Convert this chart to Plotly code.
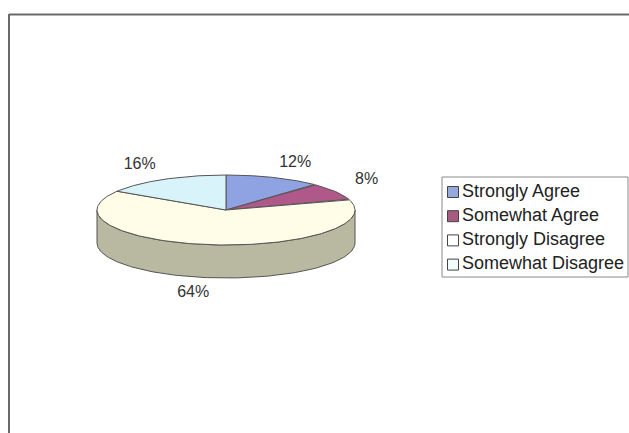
import numpy as np
import plotly.graph_objects as go

categories = ["Strongly Agree", "Somewhat Agree", "Strongly Disagree", "Somewhat Disagree"]
values = [12, 8, 64, 16]
labels = ["12%", "8%", "64%", "16%"]
top_colors = ["#8FA2E2", "#B0588A", "#FFFDE8", "#D9F3FB"]
side_colors = ["#6F7DB0", "#84406A", "#B9B8A0", "#A8C0C8"]
legend_colors = ["#97A8DC", "#A85A80", "#FFFFFF", "#F2FAFA"]

W, H = 629, 433
cx, cy, rx, ry, depth = 226, 210, 129, 35, 33
outline = "#555555"

def pt(theta, dy=0.0):
    return cx + rx * np.sin(theta), cy - ry * np.cos(theta) + dy

fig = go.Figure()

total = float(sum(values))
fracs = np.cumsum([0] + values) / total
angles = 2 * np.pi * fracs

# side walls (front half only, 90deg..270deg)
for i in range(len(values)):
    a0, a1 = max(angles[i], np.pi / 2), min(angles[i + 1], 3 * np.pi / 2)
    if a1 <= a0:
        continue
    t = np.linspace(a0, a1, 120)
    xs_top, ys_top = pt(t)
    xs_bot, ys_bot = pt(t[::-1], dy=depth)
    xs = np.concatenate([xs_top, xs_bot, xs_top[:1]])
    ys = np.concatenate([ys_top, ys_bot, ys_top[:1]])
    fig.add_trace(go.Scatter(x=xs, y=ys, mode="lines", fill="toself",
                             fillcolor=side_colors[i], line=dict(color=outline, width=1),
                             hoverinfo="skip", showlegend=False))

# top face wedges
for i in range(len(values)):
    t = np.linspace(angles[i], angles[i + 1], 200)
    ex, ey = pt(t)
    xs = np.concatenate([[cx], ex, [cx]])
    ys = np.concatenate([[cy], ey, [cy]])
    fig.add_trace(go.Scatter(x=xs, y=ys, mode="lines", fill="toself",
                             fillcolor=top_colors[i], line=dict(color=outline, width=1),
                             hoverinfo="skip", showlegend=False, name=categories[i]))

# percentage labels (outside end, Excel style)
lab_rx, lab_ry, half_w, half_h = 150, 42, 14, 8
lx, ly = [], []
for i in range(len(values)):
    mid = (angles[i] + angles[i + 1]) / 2
    s, c = np.sin(mid), np.cos(mid)
    x = cx + lab_rx * s + half_w * np.sign(s)
    y = cy - lab_ry * c - half_h * np.sign(c)
    if c < 0:
        y += depth
    lx.append(x)
    ly.append(y)
fig.add_trace(go.Scatter(x=lx, y=ly, mode="text", text=labels,
                         textfont=dict(family="Liberation Sans, Arial", size=16, color="#333333"),
                         hoverinfo="skip", showlegend=False))

# legend (drawn manually, Excel style)
leg_x0, leg_y0, row_h = 453, 192, 24.2
leg_y = [leg_y0 + row_h * i for i in range(len(categories))]
fig.add_trace(go.Scatter(x=[leg_x0] * len(categories), y=leg_y, mode="markers",
                         marker=dict(symbol="square", size=11, color=legend_colors,
                                     line=dict(color="#444444", width=1)),
                         hoverinfo="skip", showlegend=False))
fig.add_trace(go.Scatter(x=[leg_x0 + 9] * len(categories), y=leg_y, mode="text",
                         text=categories, textposition="middle right",
                         textfont=dict(family="Liberation Sans, Arial", size=18, color="#222222"),
                         hoverinfo="skip", showlegend=False))

shapes = [
    dict(type="rect", xref="x", yref="y", x0=442, x1=628, y0=177, y1=277,
         line=dict(color="#888888", width=1), fillcolor="rgba(0,0,0,0)", layer="below"),
    dict(type="line", xref="x", yref="y", x0=9, x1=W, y0=14.5, y1=14.5,
         line=dict(color="#6a6a6a", width=2)),
    dict(type="line", xref="x", yref="y", x0=9, x1=9, y0=14, y1=H,
         line=dict(color="#6a6a6a", width=2)),
]

fig.update_layout(
    width=W, height=H,
    margin=dict(l=0, r=0, t=0, b=0),
    paper_bgcolor="white", plot_bgcolor="white",
    xaxis=dict(range=[0, W], visible=False, fixedrange=True),
    yaxis=dict(range=[H, 0], visible=False, fixedrange=True),
    shapes=shapes,
    showlegend=False,
)

fig.write_html("out.html")
